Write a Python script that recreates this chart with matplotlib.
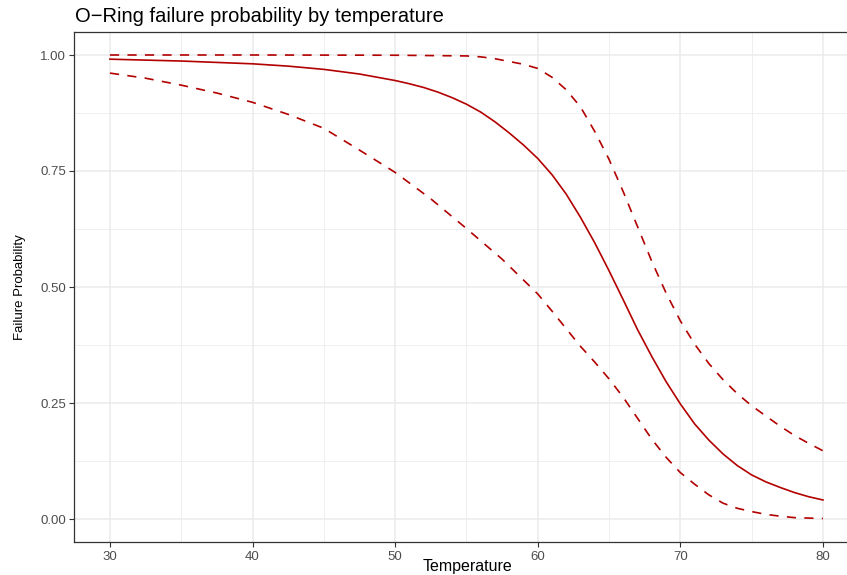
import matplotlib
matplotlib.use("Agg")
import matplotlib.pyplot as plt
from matplotlib.ticker import MultipleLocator, FormatStrFormatter

# fitted probability curve
temp_fit = [30, 32.5, 35, 37.5, 40, 42.5, 45, 47.5, 50, 51, 52, 53, 54, 55, 56,
            57, 58, 59, 60, 61, 62, 63, 64, 65, 66, 67, 68, 69, 70, 71, 72, 73,
            74, 75, 76, 77, 78, 79, 80]
prob_fit = [0.991, 0.989, 0.987, 0.984, 0.981, 0.976, 0.969, 0.959, 0.945, 0.938,
            0.930, 0.920, 0.908, 0.894, 0.877, 0.856, 0.832, 0.806, 0.777, 0.742,
            0.700, 0.650, 0.595, 0.535, 0.472, 0.408, 0.350, 0.296, 0.248, 0.205,
            0.170, 0.140, 0.115, 0.095, 0.080, 0.068, 0.057, 0.048, 0.041]

# upper confidence band
temp_hi = [30, 40, 50, 55, 56, 57, 58, 59, 60, 61, 62, 63, 64, 65, 66, 67, 68,
           69, 70, 71, 72, 73, 74, 75, 76, 77, 78, 79, 80]
prob_hi = [1.0, 1.0, 0.9995, 0.998, 0.996, 0.992, 0.986, 0.980, 0.971, 0.952,
           0.925, 0.888, 0.835, 0.775, 0.705, 0.630, 0.555, 0.487, 0.427, 0.377,
           0.335, 0.300, 0.270, 0.244, 0.222, 0.200, 0.180, 0.163, 0.147]

# lower confidence band
temp_lo = [30, 32.5, 35, 37.5, 40, 42.5, 45, 47.5, 50, 52.5, 55, 57.5, 59, 60,
           61, 62, 63, 64, 65, 66, 67, 68, 69, 70, 71, 72, 73, 74, 75, 76, 77,
           78, 79, 80]
prob_lo = [0.961, 0.950, 0.935, 0.918, 0.898, 0.872, 0.842, 0.795, 0.747, 0.690,
           0.626, 0.560, 0.515, 0.485, 0.448, 0.410, 0.372, 0.338, 0.302, 0.262,
           0.217, 0.172, 0.133, 0.100, 0.075, 0.052, 0.034, 0.023, 0.016, 0.010,
           0.006, 0.003, 0.002, 0.001]

line_col = "#B30000"
grid_col = "#EBEBEB"
txt_col = "#4D4D4D"
plt.rcParams["font.family"] = ["Liberation Sans", "DejaVu Sans"]

W, H = 847, 575
fig = plt.figure(figsize=(W / 100, H / 100), dpi=100)
# panel runs a little past the right edge of the image, as in the reference
ax = fig.add_axes([74.3 / W, 1 - 542.2 / H, (858.6 - 74.3) / W, (542.2 - 31.8) / H])

ax.plot(temp_fit, prob_fit, color=line_col, lw=1.2)
ax.plot(temp_hi, prob_hi, color=line_col, lw=1.2, dashes=(5.5, 5))
ax.plot(temp_lo, prob_lo, color=line_col, lw=1.2, dashes=(5.5, 5))

ax.set_xlim(27.5, 82.5)
ax.set_ylim(-0.05, 1.05)
ax.xaxis.set_major_locator(MultipleLocator(10))
ax.xaxis.set_minor_locator(MultipleLocator(5))
ax.yaxis.set_major_locator(MultipleLocator(0.25))
ax.yaxis.set_minor_locator(MultipleLocator(0.125))
ax.yaxis.set_major_formatter(FormatStrFormatter("%.2f"))

ax.grid(which="major", color=grid_col, lw=1.1)
ax.grid(which="minor", color=grid_col, lw=0.55)
ax.set_axisbelow(True)

for s in ax.spines.values():
    s.set_color("#333333")
    s.set_linewidth(0.9)

ax.tick_params(which="major", length=3.5, width=0.8, color="#333333",
               labelcolor=txt_col, labelsize=9.5, pad=2.5)
ax.tick_params(which="minor", length=0)

fig.text(75 / W, 1 - 22 / H, "O\u2212Ring failure probability by temperature",
         fontsize=14.5, color="black", ha="left", va="baseline")
fig.text(467 / W, 1 - 566 / H, "Temperature", fontsize=11.5, ha="center", va="center")
fig.text(20 / W, 1 - 287 / H, "Failure Probability", fontsize=9.5, rotation=90,
         ha="center", va="center")

fig.savefig("out.png", dpi=100)
